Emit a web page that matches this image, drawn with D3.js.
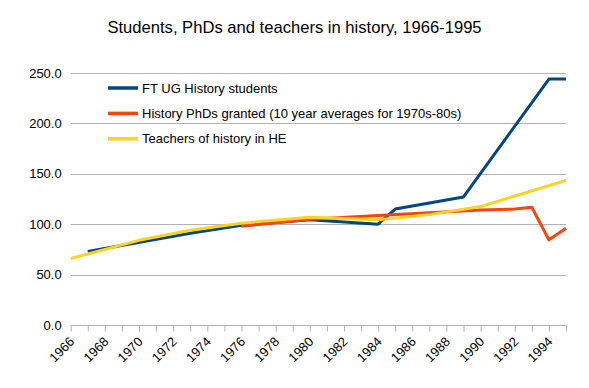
<!DOCTYPE html>
<html>
<head>
<meta charset="utf-8">
<script src="https://cdn.jsdelivr.net/npm/d3@7"></script>
<style>
  body { margin: 0; background: #fff; }
  text { font-family: "Liberation Sans", Arial, sans-serif; }
</style>
</head>
<body>
<script>
// Chart data
var years = d3.range(1966, 1996);
var yTicks = [0, 50, 100, 150, 200, 250];

var studentYears = [1967, 1973, 1976, 1980, 1984, 1985, 1989, 1994, 1995];
var studentVals  = [73, 91, 99, 104.5, 100, 115, 127, 244, 244];

var phdYears = [1976, 1978, 1980, 1984, 1990, 1992, 1993, 1994, 1995];
var phdVals  = [98, 101.5, 105, 108.7, 114, 115, 116.7, 84.5, 96];

var teacherYears = [1966, 1970, 1973, 1976, 1980, 1984, 1987, 1990, 1995];
var teacherVals  = [66, 84, 94, 101, 107, 104.5, 109.5, 117.5, 143.5];

var seriesNames = [
  "FT UG History students",
  "History PhDs granted (10 year averages for 1970s-80s)",
  "Teachers of history in HE"
];
var seriesColors = ["#004586", "#ff420e", "#ffd320"];

// Chart params
var svgWidth = 589;
var svgHeight = 388;
var margin = { top: 73, right: 23, bottom: 63, left: 70.7 };
var width = svgWidth - margin.left - margin.right;
var height = svgHeight - margin.top - margin.bottom;

var svg = d3.select("body")
  .append("svg")
  .attr("width", svgWidth)
  .attr("height", svgHeight);

// title
svg.append("text")
  .attr("x", 294.5)
  .attr("y", 33)
  .attr("text-anchor", "middle")
  .style("font-size", "16.6px")
  .attr("fill", "#000")
  .text("Students, PhDs and teachers in history, 1966-1995");

var chartGroup = svg.append("g")
  .attr("transform", `translate(${margin.left}, ${margin.top})`);

var xScale = d3.scaleLinear()
  .domain([1966, 1995])
  .range([0, width]);

var yScale = d3.scaleLinear()
  .domain([0, 250])
  .range([height, 0]);

// gridlines
chartGroup.append("g")
  .selectAll("line")
  .data(yTicks.slice(1))
  .enter()
  .append("line")
  .attr("x1", 0)
  .attr("x2", width)
  .attr("y1", d => Math.round(yScale(d)) + 0.5)
  .attr("y2", d => Math.round(yScale(d)) + 0.5)
  .attr("stroke", "#b3b3b3");

// y axis labels
var leftAxis = d3.axisLeft(yScale)
  .tickValues(yTicks)
  .tickSize(0)
  .tickPadding(9)
  .tickFormat(d3.format(".1f"));

var yAxisG = chartGroup.append("g").call(leftAxis);
yAxisG.select(".domain").remove();
yAxisG.selectAll("text")
  .style("font-size", "13px")
  .style("font-family", "Liberation Sans, Arial, sans-serif")
  .attr("fill", "#000");

// x axis
var bottomAxis = d3.axisBottom(xScale)
  .tickValues(years)
  .tickSize(6)
  .tickFormat(d => (d % 2 === 0 ? d : ""));

var xAxisG = chartGroup.append("g")
  .attr("transform", `translate(0, ${Math.round(height) + 0.5})`)
  .call(bottomAxis);
xAxisG.select(".domain").attr("stroke", "#b3b3b3").attr("d", `M0,0H${width}`);
xAxisG.selectAll(".tick line").attr("stroke", "#b3b3b3");
xAxisG.selectAll("text")
  .style("font-size", "13px")
  .style("font-family", "Liberation Sans, Arial, sans-serif")
  .attr("fill", "#000")
  .attr("text-anchor", "end")
  .attr("dy", "0")
  .attr("y", 0)
  .attr("transform", "translate(4, 17) rotate(-45)");

// lines
var allSeries = [
  { years: studentYears, vals: studentVals },
  { years: phdYears, vals: phdVals },
  { years: teacherYears, vals: teacherVals }
];

var line = d3.line()
  .x(d => xScale(d[0]))
  .y(d => yScale(d[1]));

allSeries.forEach(function(s, i) {
  chartGroup.append("path")
    .datum(d3.zip(s.years, s.vals))
    .attr("fill", "none")
    .attr("stroke", seriesColors[i])
    .attr("stroke-width", 3)
    .attr("stroke-linejoin", "round")
    .attr("d", line);
});

// legend
var legend = svg.append("g")
  .attr("transform", "translate(108, 88)");

seriesNames.forEach(function(name, i) {
  var row = legend.append("g")
    .attr("transform", `translate(0, ${i * 25.4})`);
  row.append("line")
    .attr("x1", 0)
    .attr("x2", 30)
    .attr("y1", 0)
    .attr("y2", 0)
    .attr("stroke", seriesColors[i])
    .attr("stroke-width", 3.5);
  row.append("text")
    .attr("x", 34)
    .attr("y", 0)
    .attr("dy", "0.35em")
    .style("font-size", "13px")
    .attr("fill", "#000")
    .text(name);
});
</script>
</body>
</html>
